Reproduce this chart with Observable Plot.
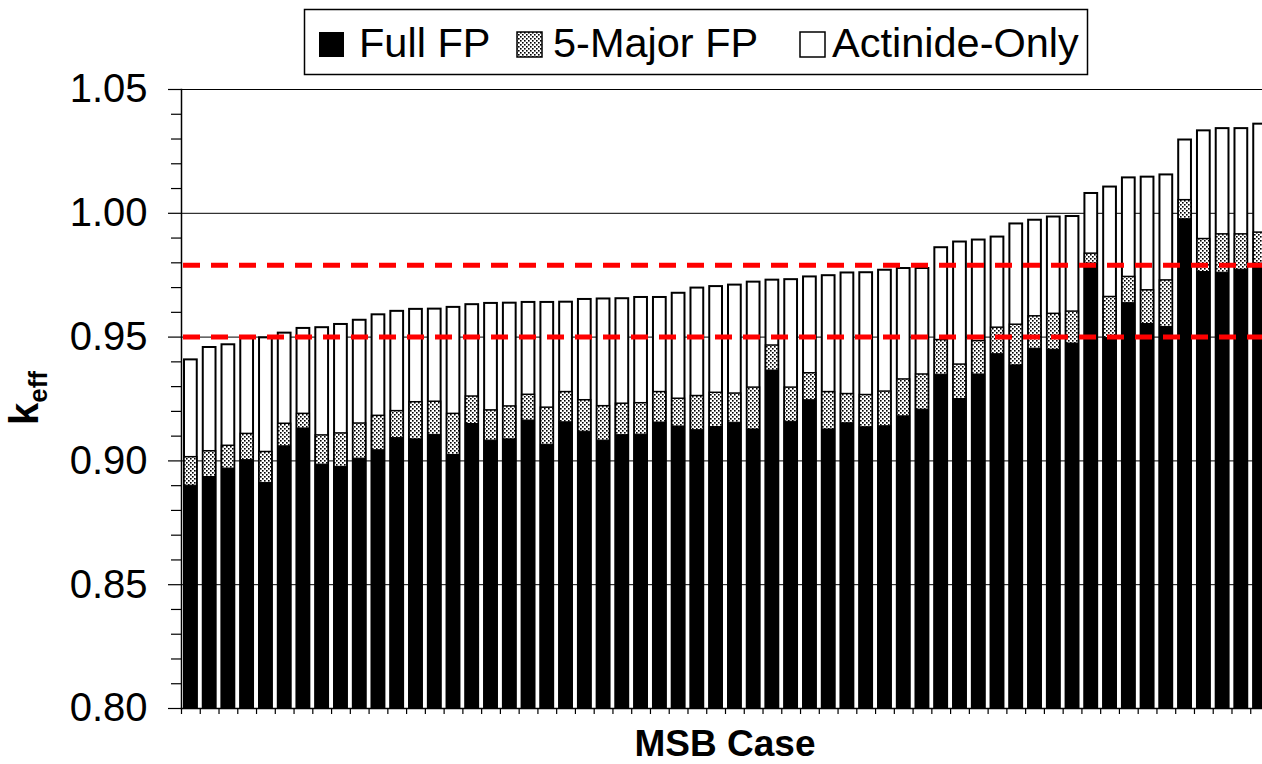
<!DOCTYPE html>
<html>
<head>
<meta charset="utf-8">
<script src="https://cdn.jsdelivr.net/npm/d3@7"></script>
<script src="https://cdn.jsdelivr.net/npm/@observablehq/plot@0.6"></script>
<style>
  html, body { margin: 0; padding: 0; background: #fff; overflow: hidden; }
  #wrap { position: relative; width: 1262px; height: 764px; font-family: "Liberation Sans", Arial, sans-serif; }
  #wrap > svg { position: absolute; left: 0; top: 0; }
  #overlay { pointer-events: none; }
</style>
</head>
<body>
<div id="wrap"></div>
<script>
// ---- data ----
const cases = [1,2,3,4,5,6,7,8,9,10,11,12,13,14,15,16,17,18,19,20,21,22,23,24,25,26,27,28,29,30,
  31,32,33,34,35,36,37,38,39,40,41,42,43,44,45,46,47,48,49,50,51,52,53,54,55,56,57,58];
const fullFP = [0.890,0.8935,0.8969,0.9003,0.8911,0.9059,0.9131,0.8985,0.8976,0.9009,
  0.9043,0.9092,0.9087,0.9105,0.9024,0.9149,0.9082,0.9087,0.9163,0.9065,
  0.9156,0.9118,0.9082,0.9104,0.9106,0.9155,0.9139,0.9124,0.9137,0.9154,
  0.9127,0.9365,0.9158,0.9245,0.9127,0.9152,0.9136,0.914,0.918,0.9207,
  0.9348,0.925,0.9349,0.9431,0.9386,0.9453,0.9449,0.9474,0.9797,0.9496,
  0.9637,0.9553,0.9541,0.9976,0.9763,0.976,0.9772,0.9797];
const major5FP = [0.9015,0.9039,0.9061,0.9109,0.9036,0.915,0.919,0.9103,0.9111,0.9151,
  0.9182,0.9201,0.9237,0.9239,0.919,0.926,0.9204,0.922,0.9267,0.9215,
  0.9278,0.9245,0.9221,0.9231,0.9233,0.9278,0.9251,0.9262,0.9275,0.9272,
  0.9296,0.9466,0.9296,0.9354,0.9278,0.927,0.9266,0.928,0.9329,0.9349,
  0.9488,0.9389,0.9484,0.9538,0.955,0.9584,0.9594,0.9603,0.9837,0.9662,
  0.9743,0.9689,0.9729,1.0053,0.9896,0.9915,0.9915,0.9922];
const actinideOnly = [0.9408,0.9458,0.9469,0.9495,0.9497,0.9516,0.9535,0.9538,0.9551,0.9568,
  0.959,0.9604,0.9612,0.9613,0.962,0.9631,0.9636,0.9637,0.964,0.964,
  0.9641,0.9652,0.9654,0.9655,0.966,0.966,0.9677,0.9698,0.9704,0.971,
  0.9722,0.973,0.9732,0.9743,0.9748,0.9759,0.976,0.977,0.9777,0.9777,
  0.9861,0.9884,0.9892,0.9904,0.9957,0.9972,0.9985,0.9987,1.008,1.0106,
  1.0143,1.0146,1.0155,1.0296,1.0333,1.0342,1.0342,1.036];
const limitLines = [0.95, 0.979];
const majorTicks = [0.80, 0.85, 0.90, 0.95, 1.00, 1.05];
const minorTicks = [0.81,0.82,0.83,0.84,0.86,0.87,0.88,0.89,0.91,0.92,0.93,0.94,0.96,0.97,0.98,0.99,1.01,1.02,1.03,1.04];
const gridValues = [0.85, 0.90, 0.95, 1.00, 1.05];
const seriesNames = ["Full FP", "5-Major FP", "Actinide-Only"];
const xTitle = "MSB Case";

// ---- chart ----
const rows = cases.map((c, i) => ({c, full: fullFP[i], major: major5FP[i], act: actinideOnly[i]}));
const xRange = [181, 1269];
const step = (xRange[1] - xRange[0]) / cases.length;
const FONT = '"Liberation Sans", Arial, sans-serif';

const chart = Plot.plot({
  width: 1262, height: 764,
  marginLeft: 181, marginRight: 0, marginTop: 89, marginBottom: 56,
  style: {fontFamily: FONT, background: "white", color: "black", overflow: "hidden"},
  x: {type: "band", domain: cases, range: xRange, paddingInner: 0.32, paddingOuter: 0.16, axis: null, label: null},
  y: {domain: [0.8, 1.05], axis: null, label: null},
  marks: [
    Plot.gridY(gridValues, {stroke: "black", strokeOpacity: 1, strokeWidth: 1}),
    Plot.barY(rows, {x: "c", y1: 0.8, y2: "act", fill: "white", stroke: "black", strokeWidth: 2}),
    Plot.barY(rows, {x: "c", y1: 0.8, y2: "major", fill: "url(#dots)", stroke: "black", strokeWidth: 1.5}),
    Plot.barY(rows, {x: "c", y1: 0.8, y2: "full", fill: "black", stroke: "black", strokeWidth: 1}),
    Plot.ruleY(limitLines, {stroke: "#ff0000", strokeWidth: 5, strokeDasharray: "17,11", strokeDashoffset: -2}),
    Plot.axisY(minorTicks, {tickSize: 10, tickFormat: () => "", strokeWidth: 1.2, label: null}),
    Plot.axisY(majorTicks, {tickSize: 13, tickPadding: 21, tickFormat: d3.format(".2f"), fontSize: 40, strokeWidth: 1.2, label: null}),
    Plot.axisX({tickSize: 6, tickFormat: () => "", dx: -step / 2, strokeWidth: 1.2, label: null}),
    Plot.frame({anchor: "left", strokeWidth: 1.5}),
    Plot.frame({anchor: "bottom", strokeWidth: 1.5})
  ]
});

const defs = d3.select(chart).insert("defs", ":first-child");
function addPattern(sel, id) {
  const p = sel.append("pattern").attr("id", id).attr("patternUnits", "userSpaceOnUse")
    .attr("width", 4).attr("height", 4);
  p.append("rect").attr("width", 4).attr("height", 4).attr("fill", "white");
  p.append("rect").attr("x", 0).attr("y", 0).attr("width", 1.6).attr("height", 1.6).attr("fill", "black");
  p.append("rect").attr("x", 2).attr("y", 2).attr("width", 1.6).attr("height", 1.6).attr("fill", "black");
}
addPattern(defs, "dots");
document.getElementById("wrap").appendChild(chart);

// ---- overlay: legend and axis titles ----
const ov = d3.select("#wrap").append("svg").attr("id", "overlay")
  .attr("width", 1262).attr("height", 764).style("font-family", FONT);
addPattern(ov.append("defs"), "dotsL");
const lg = ov.append("g");
lg.append("rect").attr("x", 304.5).attr("y", 9.5).attr("width", 783).attr("height", 65)
  .attr("fill", "white").attr("stroke", "black").attr("stroke-width", 1.5);
const swX = [319, 517, 800], txX = [359, 553, 832];
const swFill = ["black", "url(#dotsL)", "white"];
seriesNames.forEach((name, i) => {
  lg.append("rect").attr("x", swX[i]).attr("y", 32).attr("width", 25).attr("height", 25)
    .attr("fill", swFill[i]).attr("stroke", "black").attr("stroke-width", i === 0 ? 0 : 1.5);
  lg.append("text").attr("x", txX[i]).attr("y", 57).attr("font-size", 41.5).attr("fill", "black").text(name);
});
ov.append("text").attr("x", 725).attr("y", 756).attr("text-anchor", "middle")
  .attr("font-size", 37).attr("font-weight", "bold").text(xTitle);
const yt = ov.append("text").attr("transform", "translate(38,398) rotate(-90)")
  .attr("text-anchor", "middle").attr("font-weight", "bold");
yt.append("tspan").attr("font-size", 40).text("k");
yt.append("tspan").attr("font-size", 26).attr("dy", 9).text("eff");
</script>
</body>
</html>
